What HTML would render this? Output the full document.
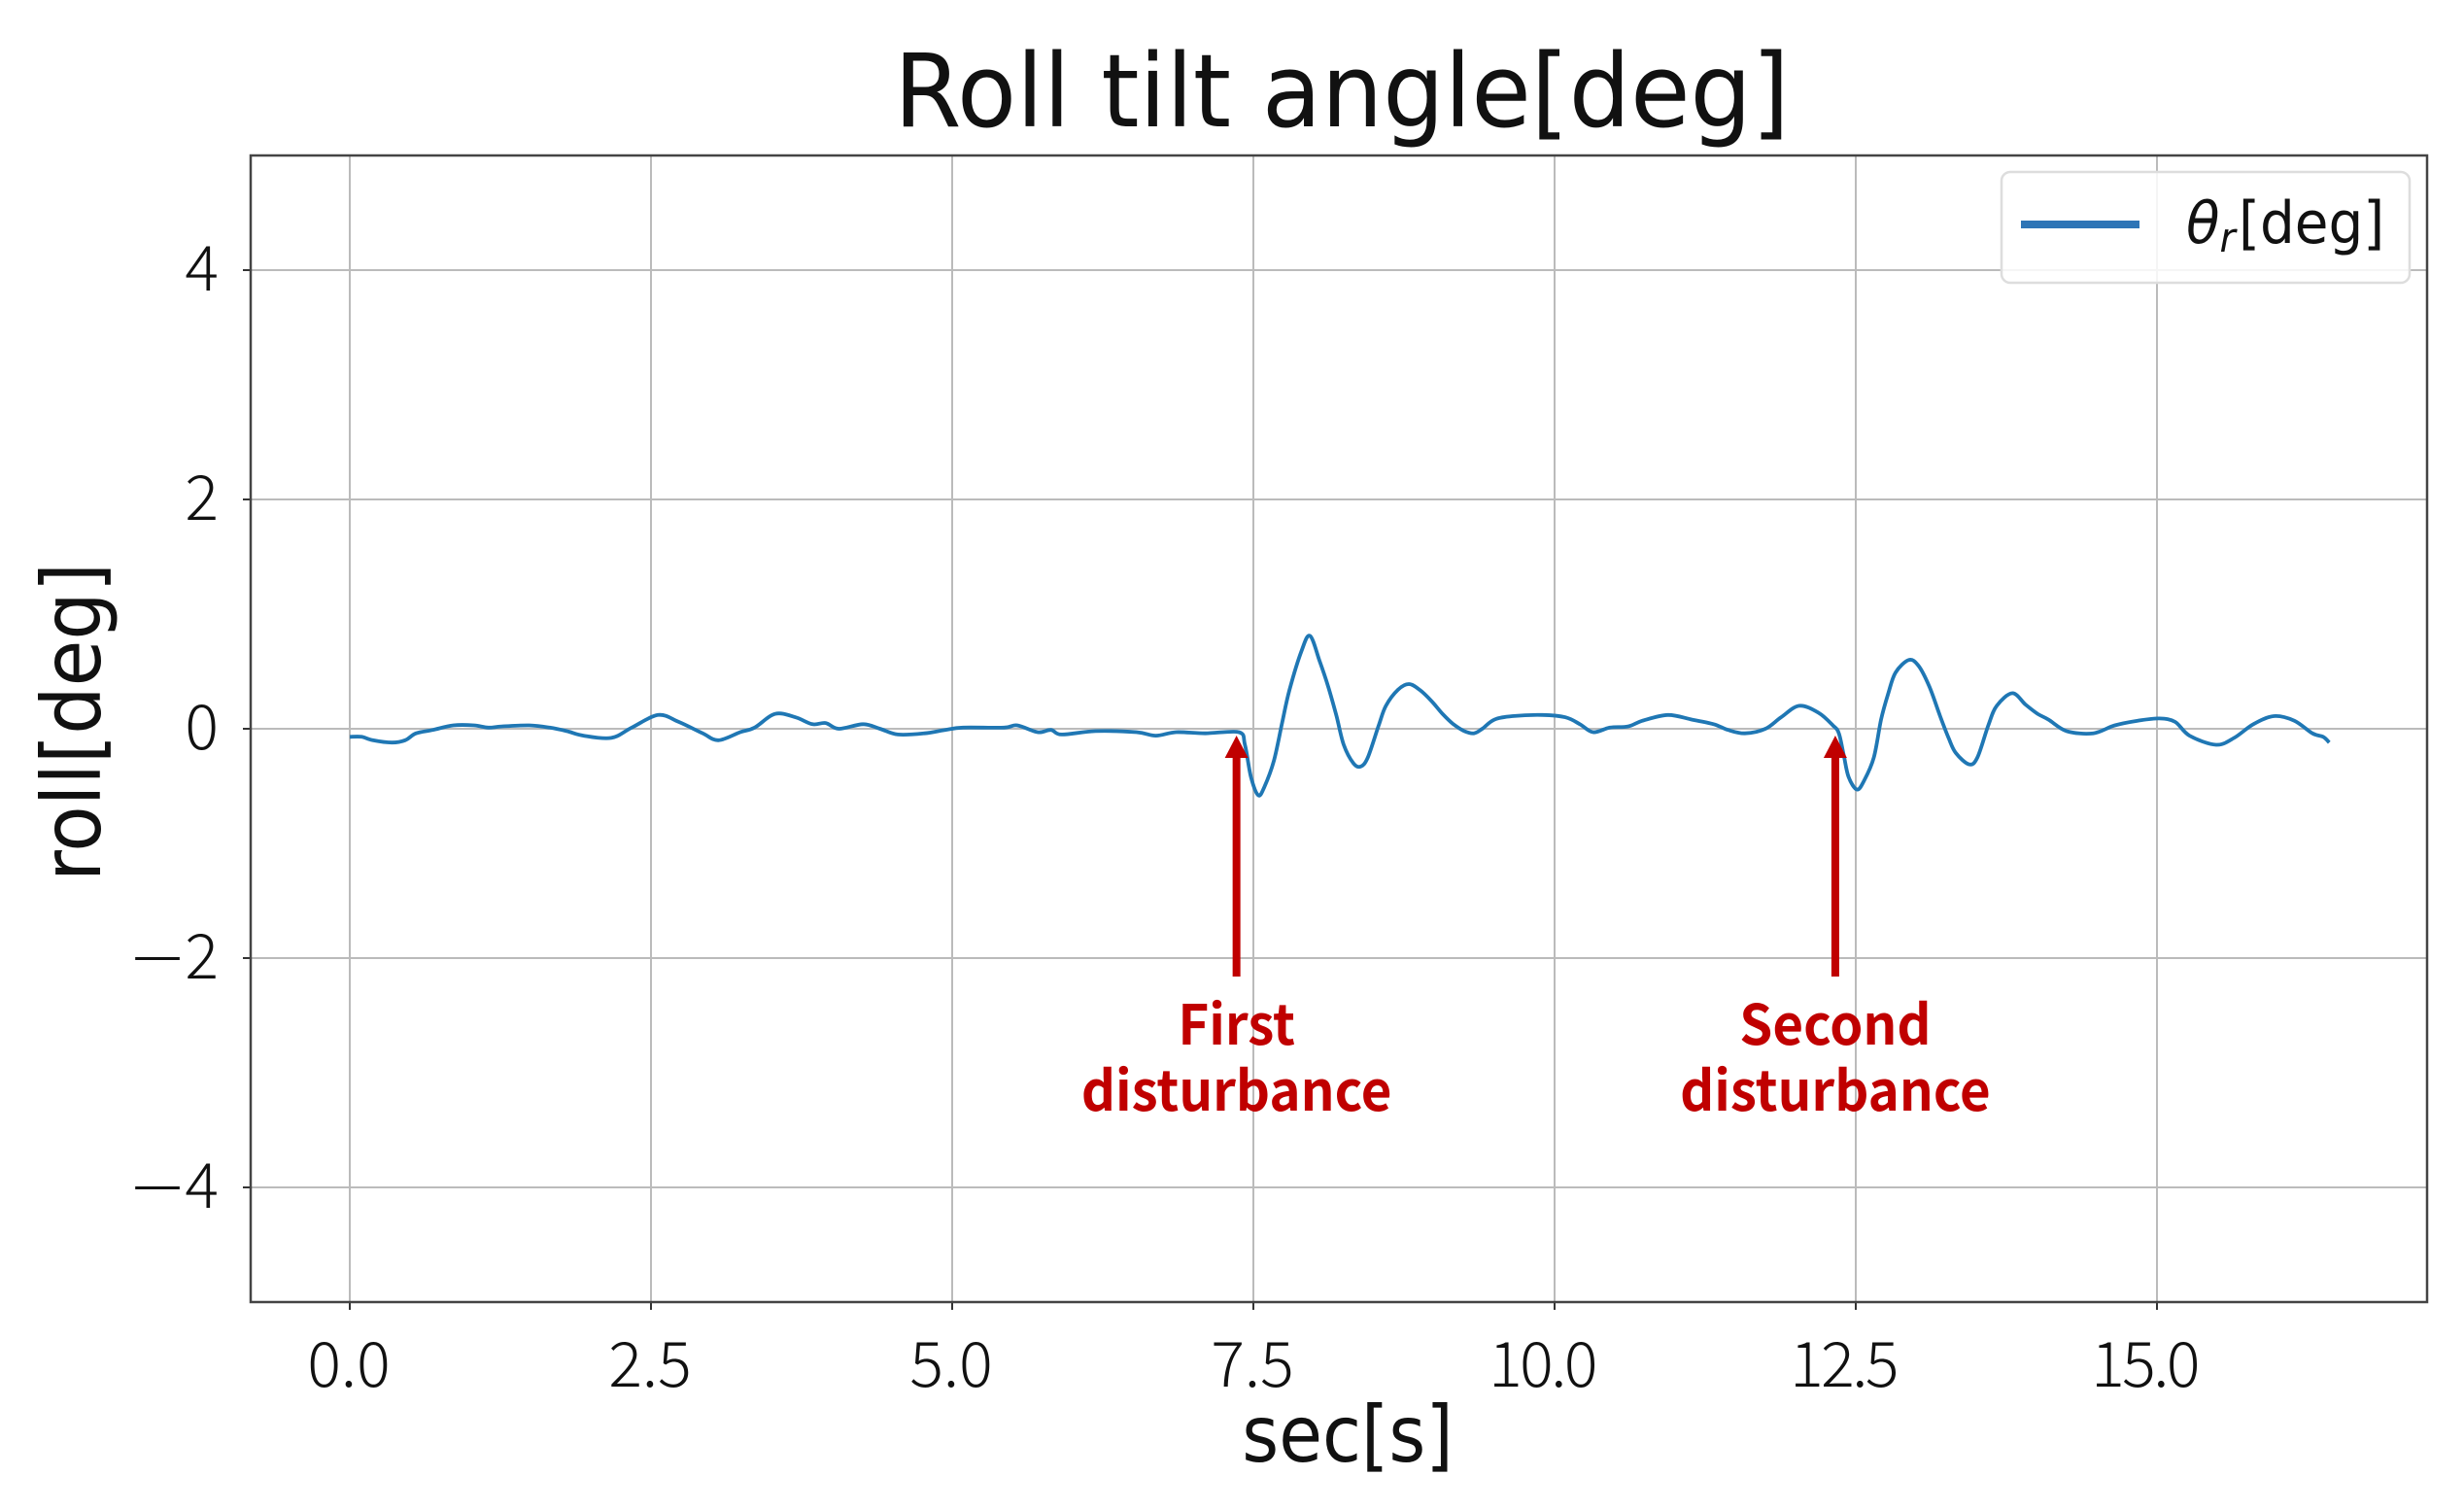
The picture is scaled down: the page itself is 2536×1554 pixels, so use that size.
<!DOCTYPE html>
<html>
<head>
<meta charset="utf-8">
<title>Roll tilt angle</title>
<style>
html,body{margin:0;padding:0;background:#fff;}
svg{display:block;}
.dj{font-family:"DejaVu Sans",sans-serif;fill:#111;}
.tk{font-family:"Noto Sans CJK KR","Liberation Sans",sans-serif;fill:#111;font-size:64px;font-weight:300;}
.an{font-family:"Noto Sans CJK KR","Liberation Sans",sans-serif;fill:#c00000;font-size:57px;font-weight:700;}
</style>
</head>
<body>
<svg id="chart" width="2536" height="1554" viewBox="0 0 2536 1554" xmlns="http://www.w3.org/2000/svg"></svg>
<script>
const xTicks = [0, 2.5, 5, 7.5, 10, 12.5, 15];
const xTickLabels = ["0.0", "2.5", "5.0", "7.5", "10.0", "12.5", "15.0"];
const yTicks = [-4, -2, 0, 2, 4];
const yTickLabels = ["\u22124", "\u22122", "0", "2", "4"];
const timeValues = [0,0.10,0.19,0.35,0.46,0.55,0.69,0.86,1.03,1.15,1.26,1.49,1.66,1.80,1.94,2.17,2.34,2.56,2.73,2.93,3.06,3.24,3.36,3.53,3.70,3.84,3.95,4.06,4.26,4.40,4.55,4.77,4.94,5.09,5.43,5.54,5.71,5.82,5.91,6.19,6.53,6.69,6.86,7.10,7.38,7.43,7.48,7.54,7.59,7.67,7.74,7.80,7.90,7.97,8.05,8.12,8.19,8.25,8.33,8.39,8.45,8.54,8.60,8.70,8.79,8.88,8.98,9.07,9.16,9.25,9.33,9.40,9.50,9.65,9.90,10.09,10.21,10.32,10.46,10.61,10.73,10.94,11.14,11.32,11.44,11.58,11.75,11.88,12.03,12.19,12.31,12.36,12.40,12.44,12.51,12.57,12.65,12.71,12.77,12.83,12.94,13.02,13.11,13.20,13.27,13.33,13.44,13.51,13.60,13.67,13.80,13.91,14.01,14.10,14.25,14.47,14.65,14.84,15.02,15.15,15.27,15.49,15.64,15.80,15.97,16.14,16.29,16.38,16.43];
const rollValues = [-0.07,-0.07,-0.10,-0.12,-0.10,-0.04,-0.01,0.03,0.03,0.01,0.02,0.03,0.01,-0.02,-0.06,-0.08,0.01,0.12,0.06,-0.04,-0.10,-0.03,0.01,0.13,0.10,0.04,0.05,0.00,0.04,0.00,-0.05,-0.04,-0.01,0.01,0.01,0.03,-0.03,-0.01,-0.05,-0.02,-0.03,-0.06,-0.03,-0.04,-0.03,-0.14,-0.42,-0.58,-0.51,-0.28,0.06,0.34,0.68,0.81,0.59,0.37,0.11,-0.14,-0.30,-0.33,-0.25,0.03,0.20,0.34,0.39,0.34,0.24,0.13,0.04,-0.02,-0.04,0.00,0.08,0.11,0.12,0.10,0.04,-0.03,0.01,0.02,0.07,0.12,0.08,0.04,-0.01,-0.04,0.00,0.10,0.20,0.14,0.03,-0.04,-0.23,-0.42,-0.53,-0.45,-0.25,0.08,0.31,0.49,0.60,0.55,0.37,0.11,-0.08,-0.21,-0.31,-0.25,0.03,0.20,0.31,0.21,0.13,0.08,-0.02,-0.04,0.03,0.07,0.09,0.06,-0.06,-0.14,-0.08,0.04,0.11,0.07,-0.04,-0.07,-0.12];
const disturbanceTimes = [7.36, 12.33];
const disturbanceNames = ["First", "Second"];

const NS = "http://www.w3.org/2000/svg";
const svg = document.getElementById("chart");
const L = 258, R = 2498, T = 160, B = 1340;
const TICK_SCALE = 1.01;
function xScale(t) { return 360 + 124 * t; }
function yScale(v) { return 750 - 118 * v; }
function mk(tag, attrs, parent) {
  const e = document.createElementNS(NS, tag);
  for (const k in attrs) e.setAttribute(k, attrs[k]);
  (parent || svg).appendChild(e);
  return e;
}

const gridGroup = mk("g", {});


const tickGroup = mk("g", {});



xTicks.forEach(function (t, i) {
  const x = xScale(t);
  const g = mk("line", {x1:x, y1:T, x2:x, y2:B, stroke:"#bbbbbb", "stroke-width":2}, gridGroup);
  
  
  const m = mk("line", {x1:x, y1:B, x2:x, y2:B+8, stroke:"#333", "stroke-width":2}, tickGroup);
  
  
  const wide = xTickLabels[i].length > 3;
  const lx = wide ? x - 13 : x - 1;
  const l = mk("text", {x:0, y:0, "text-anchor":"middle", class:"tk", transform:"translate("+lx+",1427) scale("+TICK_SCALE+",1)"});
  if (wide) l.setAttribute("letter-spacing", "-2.5");
  l.textContent = xTickLabels[i];
  
  
});
yTicks.forEach(function (v, i) {
  const y = yScale(v);
  const g = mk("line", {x1:L, y1:y, x2:R, y2:y, stroke:"#bbbbbb", "stroke-width":2}, gridGroup);
  
  
  const m = mk("line", {x1:L-8, y1:y, x2:L, y2:y, stroke:"#333", "stroke-width":2}, tickGroup);
  
  
  const str = yTickLabels[i];
  const negative = str.charAt(0) === "\u2212";
  if (negative) {
    const mn = mk("text", {x:0, y:0, "text-anchor":"middle", class:"tk", transform:"translate(162,"+(y+24)+") scale(1.55,1)"});
    mn.textContent = "\u2212";
    
    
  }
  const l = mk("text", {x:0, y:0, "text-anchor":"end", class:"tk", transform:"translate(225,"+(y+21)+") scale("+TICK_SCALE+",1)"});
  l.textContent = negative ? str.slice(1) : str;
  
  
});

const frame = mk("rect", {x:L, y:T, width:R-L, height:B-T, fill:"none", stroke:"#444", "stroke-width":2.5});



const px = timeValues.map(xScale);
const py = rollValues.map(yScale);
let d = "M" + px[0].toFixed(1) + " " + py[0].toFixed(1);
for (let i = 0; i < px.length - 1; i++) {
  const a = Math.max(i - 1, 0), b = Math.min(i + 2, px.length - 1);
  const c1x = px[i] + (px[i+1] - px[a]) / 6, c1y = py[i] + (py[i+1] - py[a]) / 6;
  const c2x = px[i+1] - (px[b] - px[i]) / 6, c2y = py[i+1] - (py[b] - py[i]) / 6;
  d += " C" + c1x.toFixed(1) + " " + c1y.toFixed(1) + " " + c2x.toFixed(1) + " " + c2y.toFixed(1) + " " + px[i+1].toFixed(1) + " " + py[i+1].toFixed(1);
}
const series = mk("path", {d:d, fill:"none", stroke:"#1f77b4", "stroke-width":3.8, "stroke-linejoin":"round"});



disturbanceTimes.forEach(function (t, i) {
  const x = xScale(t);
  const g = mk("g", {});
  
  
  mk("rect", {x:x-4, y:778, width:8, height:227, fill:"#c00000"}, g);
  mk("polygon", {points:(x-12)+",780 "+(x+12)+",780 "+x+",757", fill:"#c00000"}, g);
  const a = mk("text", {x:0, y:0, "text-anchor":"middle", class:"an", transform:"translate("+x+",1075) scale(0.958,1)"}, g);
  a.textContent = disturbanceNames[i];
  const b = mk("text", {x:0, y:0, "text-anchor":"middle", class:"an", transform:"translate("+x+",1143) scale(0.958,1)"}, g);
  b.textContent = "disturbance";
});

const legend = mk("g", {});


mk("rect", {x:2060, y:177, width:420, height:114, rx:9, ry:9, fill:"#ffffff", "fill-opacity":0.85, stroke:"#dddddd", "stroke-width":2.5}, legend);
const swatch = mk("line", {x1:2080, y1:231, x2:2202, y2:231, stroke:"#2e75b6", "stroke-width":8}, legend);


const lt = mk("text", {x:0, y:0, class:"dj", "font-size":60, transform:"translate(2250,250) scale(0.94,1)"}, legend);


const s1 = mk("tspan", {"font-style":"italic"}, lt);
s1.textContent = "\u03B8";
const s2 = mk("tspan", {"font-style":"italic", "font-size":42, dy:9}, lt);
s2.textContent = "r";
const s3 = mk("tspan", {x:57.4, y:0}, lt);
s3.textContent = "[deg]";

const title = mk("text", {x:0, y:0, "text-anchor":"middle", class:"dj", "font-size":104, transform:"translate(1381,130) scale(0.96,1)"});
title.textContent = "Roll tilt angle[deg]";


const xl = mk("text", {x:0, y:0, "text-anchor":"middle", class:"dj", "font-size":80, transform:"translate(1387,1504) scale(0.91,1)"});
xl.textContent = "sec[s]";


const yl = mk("text", {x:0, y:0, "text-anchor":"middle", class:"dj", "font-size":84, transform:"translate(103,743) rotate(-90) scale(0.925,1)"});
yl.textContent = "roll[deg]";


</script>
</body>
</html>
